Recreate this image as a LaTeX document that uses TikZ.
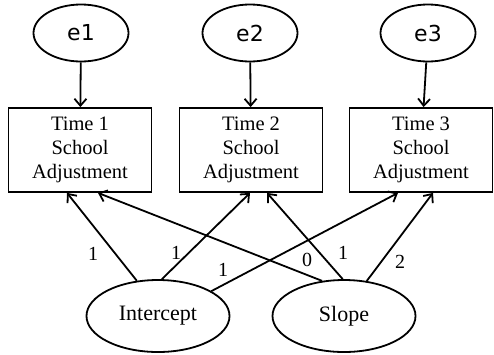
\documentclass[tikz,border=0pt]{standalone}
\usepackage{fontspec}
\setmainfont{Liberation Serif}
\newfontfamily\efont{DejaVu Sans}
\usetikzlibrary{arrows.meta,calc,shapes.geometric}
\begin{document}
\begin{tikzpicture}[x=1pt,y=-1pt,
  line width=1.8pt,
  arr/.style={-{Straight Barb[length=7pt,width=12pt,line width=1.8pt]}},
  errnode/.style={ellipse,draw,minimum width=95pt,minimum height=57pt,inner sep=0pt,font=\efont\fontsize{22}{26}\selectfont},
  latent/.style={ellipse,draw,minimum width=143pt,minimum height=72pt,inner sep=0pt,font=\fontsize{22}{26}\selectfont},
  obs/.style={rectangle,draw,minimum width=143pt,minimum height=84pt,inner sep=0pt,align=center,font=\fontsize{20.5}{24}\selectfont},
  lbl/.style={font=\fontsize{20}{22}\selectfont,inner sep=0pt}]
\useasboundingbox (0,0) rectangle (494,354);
\node[errnode] (e1) at (81,33) {e1};
\node[errnode] (e2) at (250,33) {e2};
\node[errnode] (e3) at (428,33) {e3};
\node[obs] (b1) at (80,150) {Time 1\\School\\Adjustment};
\node[obs] (b2) at (251,150) {Time 2\\School\\Adjustment};
\node[obs] (b3) at (421,150) {Time 3\\School\\Adjustment};
\node[latent] (int) at (158,316) {Intercept};
\node[latent] (slp) at (344,316) {Slope};
\draw[arr] (e1) -- (b1);
\draw[arr] (e2) -- (b2);
\draw[arr] (e3) -- (b3);
\draw[arr] (int.121) -- ($(b1.south)+(-13,0)$);
\draw[arr] (int.84) -- ($(b2.south)+(-1,0)$);
\draw[arr] (int.25) -- ($(b3.south)+(-23,0)$);
\draw[arr] (slp.122) -- ($(b1.south)+(18,0)$);
\draw[arr] (slp.92) -- ($(b2.south)+(16,0)$);
\draw[arr] (slp.57) -- ($(b3.south)+(12,0)$);
\node[lbl] (l1) at (93,254) {1};
\node[lbl] (l2) at (176,253) {1};
\node[lbl] (l3) at (223,270) {1};
\node[lbl] (l4) at (307,260) {0};
\node[lbl] (l5) at (343,253) {1};
\node[lbl] (l6) at (400,262) {2};
\end{tikzpicture}
\end{document}
